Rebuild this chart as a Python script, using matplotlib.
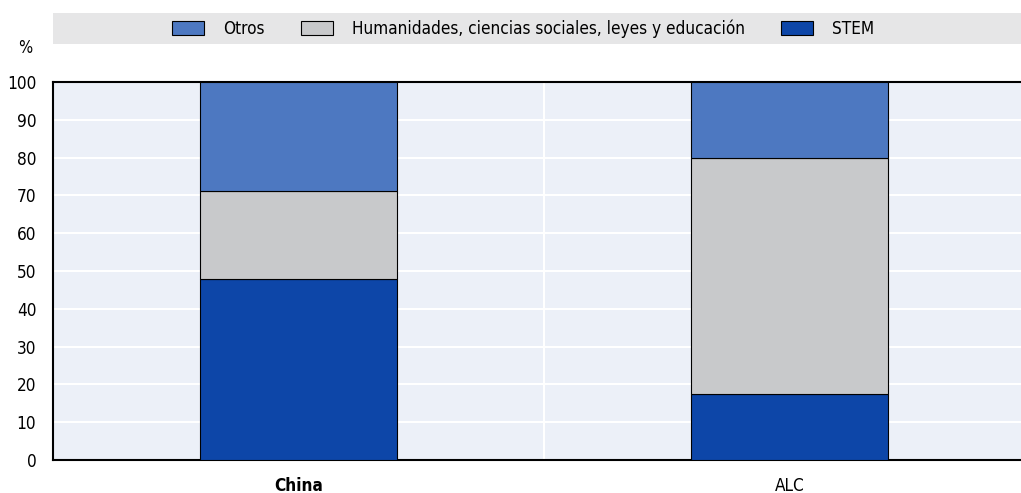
import matplotlib
matplotlib.use("Agg")
import matplotlib.pyplot as plt
from matplotlib.patches import Rectangle
import numpy as np

plt.rcParams['font.family'] = ['DejaVu Sans']
plt.rcParams['font.stretch'] = 'condensed'

# Data
regions = ["China", "ALC"]
stem = [48.0, 17.5]
humanidades = [23.2, 62.4]
otros = [28.8, 20.1]

series_labels = ["Otros", "Humanidades, ciencias sociales, leyes y educación", "STEM"]
col_otros = "#4D78C1"
col_hum = "#C8C9CB"
col_stem = "#0D46A8"

fig = plt.figure(figsize=(10.21, 4.93), dpi=100)
ax = fig.add_axes([53 / 1021, 1 - 460 / 493, 1 - 53 / 1021, (460 - 82) / 493])
ax.set_facecolor("#ECF0F8")

x = np.arange(len(regions))
w = 0.40
b_stem = ax.bar(x, stem, w, color=col_stem, edgecolor="black", linewidth=0.8, zorder=3)
b_hum = ax.bar(x, humanidades, w, bottom=stem, color=col_hum, edgecolor="black", linewidth=0.8, zorder=3)
b_otros = ax.bar(x, otros, w, bottom=np.array(stem) + np.array(humanidades),
                 color=col_otros, edgecolor="black", linewidth=0.8, zorder=3)

ax.set_xlim(-0.5, 1.471)
ax.set_ylim(0, 100)
ax.set_yticks(range(0, 101, 10))
ax.set_xticks(x)
ax.set_xticklabels(regions, fontsize=12.3)
ax.get_xticklabels()[0].set_fontweight("bold")
ax.tick_params(axis="y", labelsize=12.3, length=0, pad=12)
ax.tick_params(axis="x", length=0, pad=12)

# grid
ax.grid(axis="y", color="white", linewidth=1.5, zorder=1)
ax.axvline(0.5, color="white", linewidth=1.5, zorder=1)
ax.set_axisbelow(True)

for s in ["left", "bottom", "top"]:
    ax.spines[s].set_color("black")
    ax.spines[s].set_linewidth(1.5)
ax.spines["right"].set_visible(False)

fig.text(18 / 1021, 1 - 48 / 493, "%", fontsize=12, ha="left", va="center")

# legend band
fig.patches.append(Rectangle((53 / 1021, 1 - 44 / 493), 1 - 53 / 1021, 31 / 493,
                             transform=fig.transFigure, facecolor="#E6E6E7", edgecolor="none", zorder=0))
fig.legend([b_otros, b_hum, b_stem], series_labels, loc="center", ncol=3,
           bbox_to_anchor=(523 / 1021, 1 - 28.5 / 493), frameon=False, fontsize=12.3,
           handlelength=1.9, handleheight=0.9, columnspacing=2.1, handletextpad=1.1)

plt.savefig("out.png", dpi=100)
